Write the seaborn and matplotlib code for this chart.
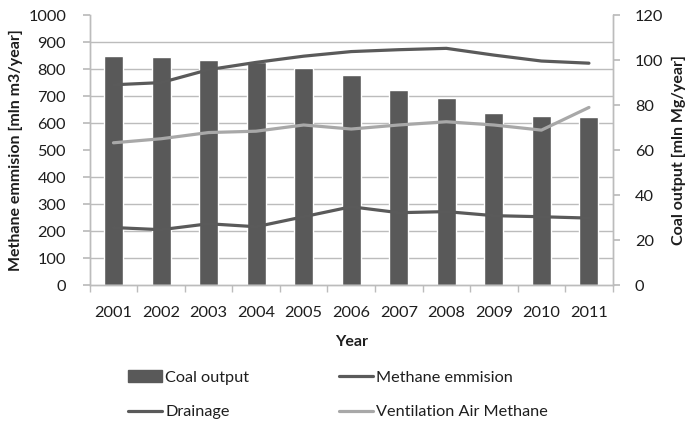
import numpy as np
import pandas as pd
import matplotlib
matplotlib.use("Agg")
import matplotlib.pyplot as plt
from matplotlib.patches import Patch
from matplotlib.lines import Line2D
import seaborn as sns

years = ["2001", "2002", "2003", "2004", "2005", "2006", "2007", "2008", "2009", "2010", "2011"]
coal_output = [102.0, 101.2, 100.0, 99.0, 96.5, 93.3, 86.6, 83.2, 76.5, 75.3, 74.6]
methane_emission = [742, 750, 798, 825, 848, 865, 872, 877, 852, 830, 822]
drainage = [213, 205, 227, 216, 253, 290, 268, 272, 257, 253, 248]
ventilation = [527, 542, 565, 570, 593, 578, 593, 605, 593, 574, 658]

left_ticks = list(range(0, 1001, 100))
right_ticks = list(range(0, 121, 20))

sns.set_theme(style="white")
plt.rcParams['font.family'] = ['Lato', 'DejaVu Sans']

c_bar = "#595959"
c_dark = "#5a5a5a"
c_light = "#a8a8a8"
c_grid = "#bcbcbc"
c_text = "#1e1e1e"

fig = plt.figure(figsize=(6.9, 4.21), dpi=100)
ax_bar = fig.add_axes([0.130, 0.323, 0.758, 0.641])
ax_line = ax_bar.twinx()

df = pd.DataFrame({"year": years, "coal": coal_output, "methane": methane_emission,
                   "drainage": drainage, "vam": ventilation})

sns.barplot(data=df, x="year", y="coal", ax=ax_bar, color=c_bar, saturation=1, width=0.4, zorder=2)
sns.lineplot(data=df, x="year", y="methane", ax=ax_line, color=c_dark, linewidth=2.3, sort=False)
sns.lineplot(data=df, x="year", y="drainage", ax=ax_line, color=c_dark, linewidth=2.3, sort=False)
sns.lineplot(data=df, x="year", y="vam", ax=ax_line, color=c_light, linewidth=2.3, sort=False)

ax_line.set_zorder(ax_bar.get_zorder() + 1)
ax_line.patch.set_visible(False)

ax_bar.set_ylim(0, 120)
ax_line.set_ylim(0, 1000)
ax_bar.set_xlim(-0.5, len(years) - 0.5)

ax_bar.yaxis.tick_right()
ax_bar.yaxis.set_label_position("right")
ax_bar.set_yticks(right_ticks)
ax_bar.set_yticks(np.array(left_ticks) * 0.12, minor=True)
ax_bar.grid(True, which="minor", axis="y", color=c_grid, linewidth=1.0, zorder=0)
ax_bar.set_axisbelow(True)
ax_bar.tick_params(axis="y", which="major", right=True, length=5, color=c_grid, labelsize=11.8, pad=11, labelcolor=c_text)
ax_bar.tick_params(axis="y", which="minor", length=0)

ax_line.yaxis.tick_left()
ax_line.yaxis.set_label_position("left")
ax_line.set_yticks(left_ticks)
ax_line.tick_params(axis="y", left=True, length=5, color=c_grid, labelsize=11.8, pad=12, labelcolor=c_text)

ax_bar.set_xticks(range(len(years)))
ax_bar.set_xticklabels(years)
ax_bar.set_xticks(np.arange(-0.5, len(years), 1.0), minor=True)
ax_bar.tick_params(axis="x", which="major", length=0, labelsize=11.8, pad=15, labelcolor=c_text)
ax_bar.tick_params(axis="x", which="minor", bottom=True, length=5, color=c_grid)
ax_line.tick_params(axis="x", length=0)

for a in (ax_bar, ax_line):
    a.spines["top"].set_visible(False)
    for s in ("left", "right", "bottom"):
        a.spines[s].set_color(c_grid)
        a.spines[s].set_linewidth(1.0)

ax_bar.set_xlabel("Year", fontsize=11.5, fontweight="bold", labelpad=11, color=c_text)
ax_bar.set_ylabel("Coal output [mln Mg/year]", fontsize=11.5, fontweight="bold", labelpad=6, color=c_text)
ax_line.set_ylabel("Methane emmision [mln m3/year]", fontsize=11.5, fontweight="bold", labelpad=4, color=c_text)
ax_line.set_xlabel("")

handles = [
    Patch(facecolor=c_bar, edgecolor=c_bar),
    Line2D([0], [0], color=c_dark, linewidth=2.3),
    Line2D([0], [0], color=c_dark, linewidth=2.3),
    Line2D([0], [0], color=c_light, linewidth=2.3),
]
labels = ["Coal output", "Drainage", "Methane emmision", "Ventilation Air Methane"]
leg = fig.legend(handles, labels, ncol=2, loc="upper left", bbox_to_anchor=(0.176, 0.136),
                 frameon=False, fontsize=11.7, handlelength=2.1, handletextpad=0.2,
                 columnspacing=5.5, labelspacing=1.25, borderaxespad=0)
for t in leg.get_texts():
    t.set_color(c_text)

fig.savefig("out.png", dpi=100)
